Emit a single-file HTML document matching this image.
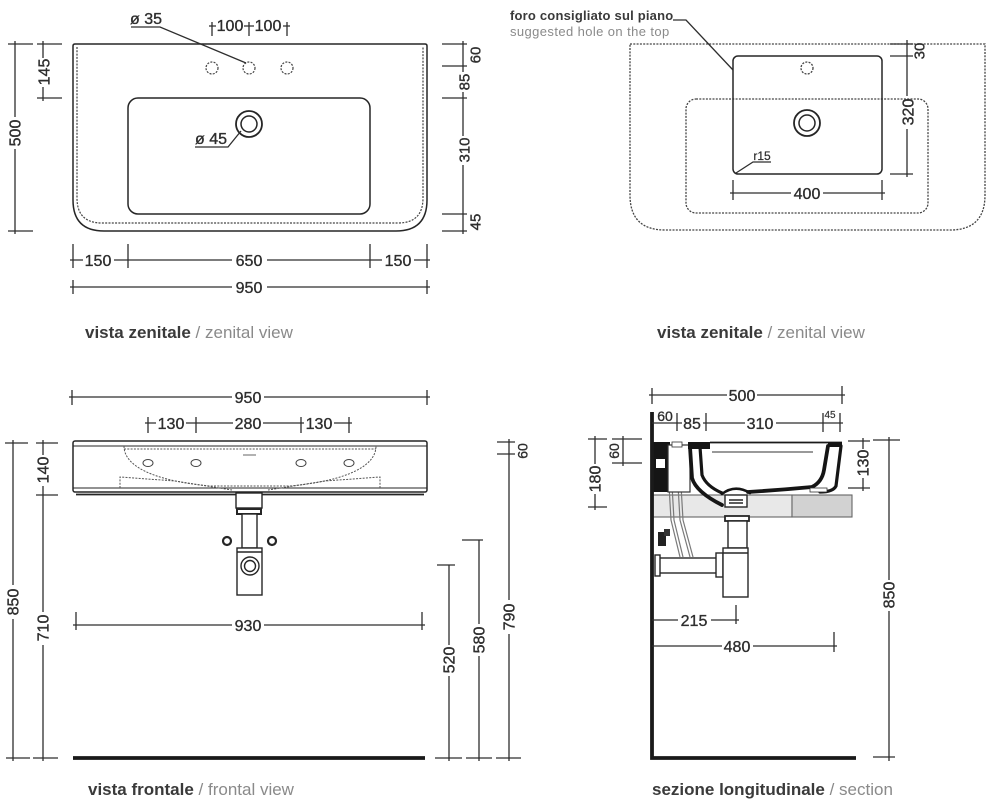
<!DOCTYPE html>
<html><head><meta charset="utf-8"><style>
html,body{margin:0;padding:0;background:#fff;}
svg{display:block;}
</style></head><body>
<svg width="1000" height="808" viewBox="0 0 1000 808" xmlns="http://www.w3.org/2000/svg">
<rect width="1000" height="808" fill="#fff"/>

<!-- ===================== VIEW 1 : top view ===================== -->
<g fill="none" stroke="#262626" stroke-width="1.5">
  <path d="M73,46 Q73,44 75,44 H425 Q427,44 427,46 V200 Q427,231 396,231 H104 Q73,231 73,200 Z"/>
  <rect x="128" y="98" width="242" height="116" rx="10"/>
  <circle cx="249" cy="124" r="13" stroke-width="1.8"/>
  <circle cx="249" cy="124" r="8"/>
</g>
<path d="M77,47 V198 Q77,223 102,223 H398 Q423,223 423,198 V47" fill="none" stroke="#444" stroke-width="1.2" stroke-dasharray="2 1.3"/>
<g fill="none" stroke="#444" stroke-width="1.2" stroke-dasharray="2 1.3">
  <circle cx="212" cy="68" r="6"/><circle cx="249" cy="68" r="6"/><circle cx="287" cy="68" r="6"/>
</g>
<g fill="none" stroke="#2e2e2e" stroke-width="1.3">
  <path d="M131,27 H160 L246,63"/>
  <path d="M195,147 H228 L241,131"/>
  <path d="M212,22 V36 M249,22 V36 M287,22 V36 M209,26 H216 M244,26 H254 M283,26 H290"/>
  <path d="M15,41 V117 M15,149 V234 M8,44 H33 M8,231 H33"/>
  <path d="M43,41 V58 M43,87 V101 M37,44 H62 M37,98 H62"/>
  <path d="M463,41 V72 M463,92 V136 M463,165 V234 M442,44 H467 M442,66 H467 M442,98 H467 M442,214 H467 M442,231 H467"/>
  <path d="M70,260 H83 M114,260 H232 M267,260 H382 M414,260 H430 M73,244 V268 M128,244 V268 M370,244 V268 M427,244 V268"/>
  <path d="M70,287 H232 M267,287 H430 M73,280 V294 M427,280 V294"/>
</g>
<g font-family="Liberation Sans, sans-serif" font-size="16" fill="#2e2e2e" stroke="#2e2e2e" stroke-width="0.35" text-anchor="middle">
  <text x="146" y="24">ø 35</text>
  <text x="211" y="144">ø 45</text>
  <text x="230" y="31">100</text>
  <text x="268" y="31">100</text>
  <text transform="translate(15,133) rotate(-90)" dy="5.5">500</text>
  <text transform="translate(44,72) rotate(-90)" dy="5.5">145</text>
  <text transform="translate(475,55) rotate(-90)" dy="5.5" font-size="15">60</text>
  <text transform="translate(464,82) rotate(-90)" dy="5.5" font-size="15">85</text>
  <text transform="translate(464,150) rotate(-90)" dy="5.5" font-size="15">310</text>
  <text transform="translate(475,222) rotate(-90)" dy="5.5" font-size="15">45</text>
  <text x="98" y="266">150</text>
  <text x="249" y="266">650</text>
  <text x="398" y="266">150</text>
  <text x="249" y="293">950</text>
</g>
<text x="85" y="338" font-family="Liberation Sans, sans-serif" font-size="17"><tspan font-weight="bold" fill="#3a3a3a">vista zenitale</tspan><tspan fill="#8a8a8a"> / zenital view</tspan></text>

<!-- ===================== VIEW 2 : suggested hole ===================== -->
<g font-family="Liberation Sans, sans-serif" font-size="13">
  <text x="510" y="20" font-weight="bold" fill="#3a3a3a" letter-spacing="0.2">foro consigliato sul piano</text>
  <text x="510" y="36" fill="#8a8a8a" letter-spacing="0.4">suggested hole on the top</text>
</g>
<g fill="none" stroke="#444" stroke-width="1.3" stroke-dasharray="2 1.3">
  <path d="M630,44 H985 V195 Q985,230 950,230 H665 Q630,230 630,195 Z"/>
  <rect x="686" y="99" width="242" height="114" rx="10"/>
  <circle cx="807" cy="68" r="6"/>
</g>
<g fill="none" stroke="#262626" stroke-width="1.5">
  <rect x="733" y="56" width="149" height="118" rx="5"/>
  <circle cx="807" cy="123" r="13" stroke-width="1.8"/>
  <circle cx="807" cy="123" r="8"/>
</g>
<g fill="none" stroke="#2e2e2e" stroke-width="1.3">
  <path d="M673,20 H686 L733,70"/>
  <path d="M771,162 H753 L736,173"/>
  <path d="M730,193 H791 M823,193 H885 M733,180 V200 M882,180 V200"/>
  <path d="M907,40 V96 M907,129 V177 M890,44 H913 M890,56 H913 M890,174 H913"/>
</g>
<g font-family="Liberation Sans, sans-serif" font-size="16" fill="#2e2e2e" stroke="#2e2e2e" stroke-width="0.35" text-anchor="middle">
  <text x="762" y="160" font-size="12" stroke-width="0.2">r15</text>
  <text x="807" y="199">400</text>
  <text transform="translate(919,51) rotate(-90)" dy="5.5" font-size="15">30</text>
  <text transform="translate(908,112) rotate(-90)" dy="5.5">320</text>
</g>
<text x="657" y="338" font-family="Liberation Sans, sans-serif" font-size="17"><tspan font-weight="bold" fill="#3a3a3a">vista zenitale</tspan><tspan fill="#8a8a8a"> / zenital view</tspan></text>

<!-- ===================== VIEW 3 : front view ===================== -->
<g fill="none" stroke="#262626" stroke-width="1.5">
  <rect x="73" y="441" width="354" height="51" rx="2"/>
  <path d="M73,446 H427 M73,488 H427" stroke-width="1.1"/>
  <path d="M76,494.5 H424" stroke-width="1.8"/>
</g>
<g fill="none" stroke="#555" stroke-width="1" stroke-dasharray="2 1.3">
  <path d="M124,446 C124,470 165,482 210,486 L290,486 C335,482 376,470 376,446"/>
  <path d="M124,449 H376"/>
  <path d="M120,488 V477 L175,481 L232,490 M380,488 V477 L325,481 L268,490"/>
</g>
<g fill="none" stroke="#444" stroke-width="1">
  <ellipse cx="148" cy="463" rx="5" ry="3.5"/><ellipse cx="196" cy="463" rx="5" ry="3.5"/>
  <ellipse cx="301" cy="463" rx="5" ry="3.5"/><ellipse cx="349" cy="463" rx="5" ry="3.5"/>
  <path d="M243,455 H256" stroke="#999" stroke-width="1.5"/>
</g>
<g fill="#fff" stroke="#262626" stroke-width="1.4">
  <rect x="236" y="493" width="26" height="15"/>
  <rect x="237" y="509" width="24" height="5" stroke-width="2"/>
  <rect x="242" y="514" width="15" height="34"/>
  <rect x="237" y="548" width="25" height="47"/>
  <path d="M237,552 H262" fill="none"/>
  <circle cx="250" cy="566" r="9"/>
  <circle cx="250" cy="566" r="5.5"/>
  <circle cx="227" cy="541" r="4" stroke-width="2.2"/>
  <circle cx="272" cy="541" r="4" stroke-width="2.2"/>
</g>
<g fill="none" stroke="#2e2e2e" stroke-width="1.3">
  <path d="M69,397 H232 M264,397 H430 M72,390 V405 M427,390 V405"/>
  <path d="M145,423 H156 M186,423 H233 M263,423 H304 M334,423 H352 M148,417 V433 M196,417 V433 M301,417 V433 M349,417 V433"/>
  <path d="M13,440 V585 M13,619 V761 M5,443 H28 M6,758 H30"/>
  <path d="M43,440 V455 M43,486 V612 M43,645 V761 M36,443 H58 M36,495 H58 M33,758 H58"/>
  <path d="M73,625 H232 M264,625 H425 M76,612 V630 M422,612 V630"/>
  <path d="M449,565 V645 M449,676 V761 M437,565 H455 M435,758 H462"/>
  <path d="M479,540 V624 M479,656 V761 M462,540 H483 M466,758 H492"/>
  <path d="M509,439 V600 M509,634 V761 M497,442 H515 M497,454 H515 M496,758 H521"/>
</g>
<path d="M73,758 H425" stroke="#1a1a1a" stroke-width="3.8"/>
<g font-family="Liberation Sans, sans-serif" font-size="16" fill="#2e2e2e" stroke="#2e2e2e" stroke-width="0.35" text-anchor="middle">
  <text x="248" y="403">950</text>
  <text x="171" y="429">130</text>
  <text x="248" y="429">280</text>
  <text x="319" y="429">130</text>
  <text transform="translate(13,602) rotate(-90)" dy="5.5">850</text>
  <text transform="translate(43,470) rotate(-90)" dy="5.5">140</text>
  <text transform="translate(43,628) rotate(-90)" dy="5.5">710</text>
  <text x="248" y="631">930</text>
  <text transform="translate(449,660) rotate(-90)" dy="5.5">520</text>
  <text transform="translate(479,640) rotate(-90)" dy="5.5">580</text>
  <text transform="translate(509,617) rotate(-90)" dy="5.5">790</text>
  <text transform="translate(522,451) rotate(-90)" dy="5.5" font-size="14">60</text>
</g>
<text x="88" y="795" font-family="Liberation Sans, sans-serif" font-size="17"><tspan font-weight="bold" fill="#3a3a3a">vista frontale</tspan><tspan fill="#8a8a8a"> / frontal view</tspan></text>

<!-- ===================== VIEW 4 : section ===================== -->
<rect x="653" y="495" width="139" height="22" fill="#e8e8e8" stroke="#666" stroke-width="1.1"/>
<rect x="792" y="495" width="60" height="22" fill="#d2d2d2" stroke="#666" stroke-width="1.1"/>
<g fill="none" stroke="#7a7a7a" stroke-width="1.2">
  <path d="M668,468 L671,520 L680,557 M671,468 L674,520 L683,557"/>
  <path d="M677,468 L680,520 L690,557 M680,468 L683,520 L693,557"/>
</g>
<rect x="653" y="442" width="17" height="50" fill="#151515"/>
<rect x="656" y="459" width="9" height="9" fill="#fff"/>
<rect x="668" y="445" width="22" height="47" fill="#fff" stroke="#333" stroke-width="1.2"/>
<rect x="672" y="442" width="10" height="5" fill="#fff" stroke="#333" stroke-width="0.8"/>
<rect x="688" y="442" width="22" height="7" fill="#151515"/>
<path d="M710,442.5 H842" stroke="#1a1a1a" stroke-width="1.8"/>
<path d="M828,442 H842 V447 H828 Z" fill="#151515"/>
<g fill="none" stroke="#151515" stroke-linecap="round">
  <path d="M690,447 L692,478 Q696,492 722,505" stroke-width="3.8"/>
  <path d="M700,447 L702,475 Q706,486 722,493" stroke-width="3.2"/>
  <path d="M748,492 Q780,490 812,487 Q822,482 824,470 L828,446" stroke-width="3.8"/>
  <path d="M841,446 L836,486 Q833,492 820,492" stroke-width="3.2"/>
  <path d="M722,494 Q735,484 750,493" stroke-width="2.6"/>
</g>
<path d="M712,452 H813" stroke="#333" stroke-width="1.1"/>
<rect x="810" y="488" width="17" height="4" fill="#fff" stroke="#333" stroke-width="0.8"/>
<g fill="#fff" stroke="#262626" stroke-width="1.4">
  <rect x="725" y="495" width="22" height="12"/>
  <path d="M729,500 H743 M729,503 H743" fill="none" stroke-width="1.6"/>
  <rect x="725" y="516" width="24" height="5" stroke-width="1.8"/>
  <rect x="728" y="521" width="19" height="27"/>
  <rect x="658" y="558" width="60" height="15"/>
  <rect x="655" y="555" width="5" height="21"/>
  <rect x="716" y="553" width="7" height="24"/>
  <rect x="723" y="548" width="25" height="49"/>
  <path d="M723,553 H748" fill="none"/>
</g>
<rect x="658" y="532" width="8" height="14" fill="#222"/>
<rect x="664" y="529" width="6" height="7" fill="#333"/>
<path d="M652,412 V758 H856" fill="none" stroke="#1a1a1a" stroke-width="3.8"/>
<g fill="none" stroke="#2e2e2e" stroke-width="1.3">
  <path d="M649,395 H727 M757,395 H845 M652,388 V404 M842,386 V404"/>
  <path d="M652,423 H682 M703,423 H745 M776,423 H843 M677,413 V431 M706,413 V431 M823,413 V432 M840,413 V432"/>
  <path d="M595,436 V464 M595,494 V510 M588,439 H607 M588,507 H607"/>
  <path d="M623,436 V466 M612,439 H642 M612,463 H642"/>
  <path d="M863,438 V449 M863,478 V491 M848,441 H870 M848,488 H870"/>
  <path d="M889,437 V580 M889,611 V761 M873,440 H900 M873,757 H895"/>
  <path d="M652,620 H678 M711,620 H739 M736,605 V624"/>
  <path d="M652,646 H722 M753,646 H837 M834,632 V652"/>
</g>
<g font-family="Liberation Sans, sans-serif" font-size="16" fill="#2e2e2e" stroke="#2e2e2e" stroke-width="0.35" text-anchor="middle">
  <text x="742" y="401">500</text>
  <text x="665" y="421" font-size="14">60</text>
  <text x="692" y="429">85</text>
  <text x="760" y="429">310</text>
  <text x="830" y="418" font-size="10" stroke-width="0.15">45</text>
  <text transform="translate(595,479) rotate(-90)" dy="5.5">180</text>
  <text transform="translate(614,451) rotate(-90)" dy="5" font-size="14">60</text>
  <text transform="translate(863,463) rotate(-90)" dy="5.5">130</text>
  <text transform="translate(889,595) rotate(-90)" dy="5.5">850</text>
  <text x="694" y="626">215</text>
  <text x="737" y="652">480</text>
</g>
<text x="652" y="795" font-family="Liberation Sans, sans-serif" font-size="17"><tspan font-weight="bold" fill="#3a3a3a">sezione longitudinale</tspan><tspan fill="#8a8a8a"> / section</tspan></text>
</svg>
</body></html>
